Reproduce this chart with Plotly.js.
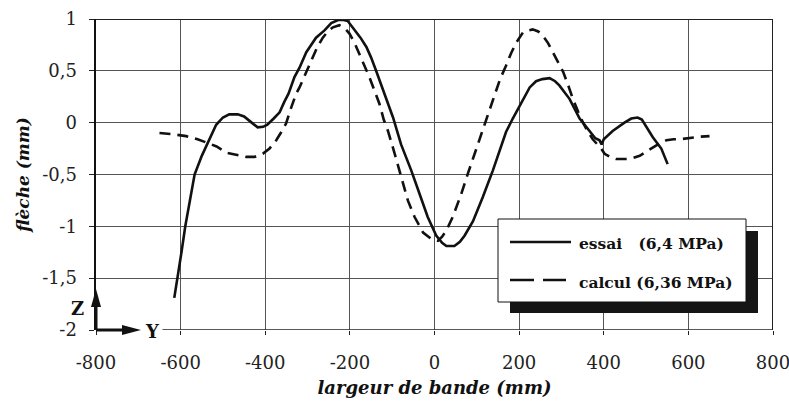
<!DOCTYPE html>
<html>
<head>
<meta charset="utf-8">
<script src="https://cdn.plot.ly/plotly-3.0.1.min.js"></script>
<style>html,body{margin:0;padding:0;background:#fff;}#chart{width:789px;height:410px;}</style>
</head>
<body>
<div id="chart"></div>
<script>
// ---- data ----
var essaiX = [-615,-607,-598,-589,-578,-567,-550,-533,-516,-500,-485,-465,-450,-435,-418,-405,-395,-380,-366,-355,-345,-331,-319,-303,-290,-280,-260,-244,-228,-215,-205,-189,-175,-161,-150,-138,-118,-106,-98,-79,-55,-35,-16,4,18,28,47,60,71,91,114,138,155,169,185,201,215,225,240,255,272,285,295,319,343,366,380,390,395,400,421,449,465,480,490,516,536,551];
var essaiY = [-1.69,-1.50,-1.25,-1.00,-0.75,-0.50,-0.32,-0.17,-0.02,0.05,0.08,0.08,0.06,0.01,-0.045,-0.04,-0.02,0.04,0.10,0.20,0.28,0.44,0.53,0.68,0.76,0.82,0.89,0.96,0.99,0.99,0.98,0.90,0.82,0.73,0.63,0.50,0.28,0.13,0.05,-0.21,-0.46,-0.69,-0.91,-1.09,-1.16,-1.19,-1.19,-1.15,-1.09,-0.95,-0.72,-0.46,-0.25,-0.09,0.04,0.16,0.27,0.34,0.40,0.42,0.43,0.40,0.36,0.23,0.04,-0.08,-0.15,-0.17,-0.21,-0.16,-0.08,0.00,0.04,0.05,0.03,-0.14,-0.25,-0.40];

var calculX = [-650,-620,-587,-560,-540,-515,-492,-470,-445,-425,-406,-390,-374,-362,-351,-340,-327,-319,-305,-291,-278,-264,-252,-240,-225,-212,-201,-189,-177,-165,-154,-142,-130,-120,-110,-94,-79,-63,-47,-27,-8,8,18,28,43,63,79,95,110,126,138,155,169,181,193,209,222,232,245,256,268,280,292,304,316,327,340,351,363,374,385,394,402,415,429,453,470,485,500,516,532,548,565,579,595,611,630,650];
var calculY = [-0.10,-0.11,-0.13,-0.16,-0.19,-0.23,-0.29,-0.31,-0.33,-0.33,-0.30,-0.25,-0.17,-0.09,-0.01,0.13,0.28,0.34,0.47,0.60,0.72,0.82,0.88,0.92,0.94,0.91,0.86,0.77,0.66,0.55,0.44,0.31,0.18,0.03,-0.08,-0.30,-0.53,-0.75,-0.91,-1.06,-1.12,-1.14,-1.10,-1.04,-0.91,-0.69,-0.49,-0.30,-0.11,0.08,0.23,0.42,0.55,0.67,0.77,0.87,0.89,0.90,0.88,0.84,0.77,0.68,0.59,0.49,0.36,0.23,0.10,0.00,-0.09,-0.16,-0.21,-0.25,-0.30,-0.33,-0.35,-0.35,-0.34,-0.32,-0.28,-0.24,-0.20,-0.17,-0.16,-0.16,-0.15,-0.14,-0.135,-0.13];

var xTickVals = [-800,-600,-400,-200,0,200,400,600,800];
var xTickText = ['-800','-600','-400','-200','0','200','400','600','800'];
var yTickVals = [-2,-1.5,-1,-0.5,0,0.5,1];
var yTickText = ['-2','-1,5','-1','-0,5','0','0,5','1'];

var seriesNames = ['essai\u00a0\u00a0\u00a0(6,4 MPa)', 'calcul (6,36 MPa)'];
var xTitle = 'largeur de bande (mm)';
var yTitle = 'flèche (mm)';

// ---- chart ----
var SERIF = 'DejaVu Serif';
var INK = '#111';

var traces = [
  {x: essaiX, y: essaiY, type: 'scatter', mode: 'lines', name: seriesNames[0],
   line: {color: INK, width: 2.6}, showlegend: false},
  {x: calculX, y: calculY, type: 'scatter', mode: 'lines', name: seriesNames[1],
   line: {color: INK, width: 2.6, dash: '11px,7px'}, showlegend: false}
];

function px2x(p){ return (p - 96) / 677; }
function px2y(p){ return (330 - p) / 311; }

var shapes = [
  // frame
  {type: 'line', xref: 'x', yref: 'y', x0: -800, x1: 800, y0: 1, y1: 1, line: {color: '#222', width: 2}},
  {type: 'line', xref: 'x', yref: 'y', x0: 800, x1: 800, y0: -2, y1: 1, line: {color: '#222', width: 2}},
  {type: 'line', xref: 'x', yref: 'y', x0: -643, x1: 800, y0: -2, y1: -2, line: {color: '#222', width: 1.6}},
  // legend shadow + box
  {type: 'rect', xref: 'paper', yref: 'paper', x0: px2x(510), x1: px2x(758), y0: px2y(313), y1: px2y(231),
   fillcolor: '#151515', line: {width: 0}},
  {type: 'rect', xref: 'paper', yref: 'paper', x0: px2x(498), x1: px2x(746), y0: px2y(302), y1: px2y(219),
   fillcolor: '#fff', line: {color: '#111', width: 1}},
  {type: 'line', xref: 'paper', yref: 'paper', x0: px2x(510), x1: px2x(571), y0: px2y(242), y1: px2y(242),
   line: {color: INK, width: 2.6}},
  {type: 'line', xref: 'paper', yref: 'paper', x0: px2x(510), x1: px2x(566), y0: px2y(280), y1: px2y(280),
   line: {color: INK, width: 2.6, dash: '24px,9px'}},
  // Z / Y axes symbol
  {type: 'line', xref: 'paper', yref: 'paper', x0: 0, x1: 0, y0: 0, y1: px2y(303), line: {color: INK, width: 3}},
  {type: 'path', xref: 'paper', yref: 'paper',
   path: 'M ' + px2x(96) + ',' + px2y(289) + ' L ' + px2x(101) + ',' + px2y(307) + ' L ' + px2x(91) + ',' + px2y(307) + ' Z',
   fillcolor: INK, line: {width: 0}},
  {type: 'line', xref: 'paper', yref: 'paper', x0: 0, x1: px2x(126), y0: 0, y1: 0, line: {color: INK, width: 3}},
  {type: 'path', xref: 'paper', yref: 'paper',
   path: 'M ' + px2x(141) + ',' + px2y(330) + ' L ' + px2x(122) + ',' + px2y(325) + ' L ' + px2x(122) + ',' + px2y(335) + ' Z',
   fillcolor: INK, line: {width: 0}}
];

var annotations = [
  {xref: 'paper', yref: 'paper', x: px2x(577), y: px2y(243), xanchor: 'left', yanchor: 'middle', showarrow: false,
   text: seriesNames[0], font: {family: SERIF, size: 15.5, color: INK, weight: 'bold'}},
  {xref: 'paper', yref: 'paper', x: px2x(577), y: px2y(282), xanchor: 'left', yanchor: 'middle', showarrow: false,
   text: seriesNames[1], font: {family: SERIF, size: 15.5, color: INK, weight: 'bold'}},
  {xref: 'paper', yref: 'paper', x: px2x(77), y: px2y(308), xanchor: 'center', yanchor: 'middle', showarrow: false,
   text: 'Z', font: {family: SERIF, size: 18, color: INK, weight: 'bold'}},
  {xref: 'paper', yref: 'paper', x: px2x(152), y: px2y(331), xanchor: 'center', yanchor: 'middle', showarrow: false,
   text: 'Y', bgcolor: '#fff', font: {family: SERIF, size: 18, color: INK, weight: 'bold'}}
];

var layout = {
  width: 789, height: 410,
  margin: {l: 96, r: 16, t: 19, b: 80, pad: 0},
  paper_bgcolor: '#fff', plot_bgcolor: '#fff',
  showlegend: false,
  xaxis: {
    range: [-800, 800], tickvals: xTickVals, ticktext: xTickText,
    showgrid: true, gridcolor: '#555', gridwidth: 1, zeroline: false, showline: false,
    ticks: 'outside', ticklen: 4, tickcolor: '#222', ticklabelstandoff: 12,
    ticklabeloverflow: 'allow',
    tickfont: {family: SERIF, size: 18, color: '#222'},
    title: {text: xTitle, standoff: 9, font: {family: SERIF, size: 18, color: INK, weight: 'bold', style: 'italic'}},
    fixedrange: true
  },
  yaxis: {
    range: [-2, 1], tickvals: yTickVals, ticktext: yTickText,
    showgrid: true, gridcolor: '#555', gridwidth: 1, zeroline: false,
    showline: true, linecolor: INK, linewidth: 2.5,
    ticks: 'outside', ticklen: 5, tickcolor: '#222', ticklabelstandoff: 8,
    ticklabeloverflow: 'allow',
    tickfont: {family: SERIF, size: 18, color: '#222'},
    title: {text: yTitle, standoff: 8, font: {family: SERIF, size: 17, color: INK, weight: 'bold', style: 'italic'}},
    fixedrange: true
  },
  shapes: shapes,
  annotations: annotations
};

Plotly.newPlot('chart', traces, layout, {displayModeBar: false, staticPlot: true});
</script>
</body>
</html>
